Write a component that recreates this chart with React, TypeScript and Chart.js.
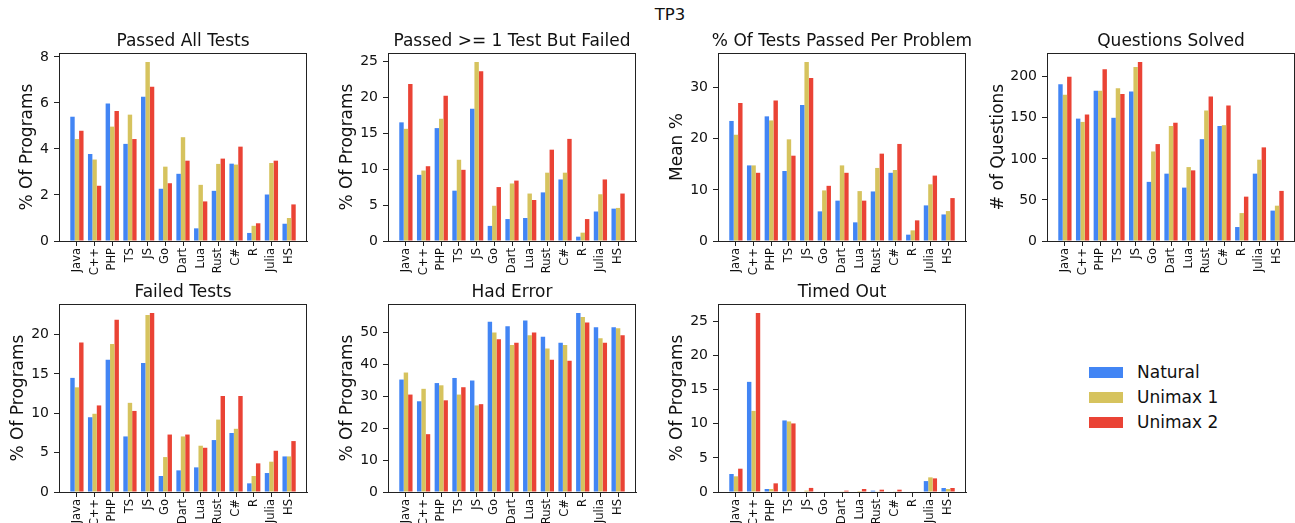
import React, { useEffect, useRef } from 'react';
import { Chart, registerables } from 'chart.js';

Chart.register(...registerables);

const categories = ['Java', 'C++', 'PHP', 'TS', 'JS', 'Go', 'Dart', 'Lua', 'Rust', 'C#', 'R', 'Julia', 'HS'];
const seriesNames = ['Natural', 'Unimax 1', 'Unimax 2'];
const seriesColors = ['#4285F4', '#D6C35E', '#EA4335'];

// Passed All Tests
const passedAllNatural = [5.40, 3.78, 5.98, 4.22, 6.27, 2.27, 2.92, 0.55, 2.18, 3.36, 0.35, 2.02, 0.75];
const passedAllUnimax1 = [4.43, 3.54, 4.97, 5.49, 7.78, 3.23, 4.51, 2.44, 3.35, 3.32, 0.66, 3.39, 1.00];
const passedAllUnimax2 = [4.79, 2.40, 5.65, 4.43, 6.70, 2.51, 3.49, 1.72, 3.58, 4.10, 0.77, 3.49, 1.59];
const passedAllTicks = [0, 2, 4, 6, 8];

// Passed >= 1 Test But Failed
const passedOneNatural = [16.5, 9.2, 15.7, 7.0, 18.4, 2.1, 3.05, 3.2, 6.76, 8.56, 0.6, 4.1, 4.5];
const passedOneUnimax1 = [15.6, 9.8, 17.0, 11.3, 24.9, 4.9, 8.0, 6.6, 9.5, 9.5, 1.16, 6.5, 4.6];
const passedOneUnimax2 = [21.85, 10.4, 20.2, 9.9, 23.6, 7.5, 8.4, 5.7, 12.7, 14.2, 3.05, 8.56, 6.6];
const passedOneTicks = [0, 5, 10, 15, 20, 25];

// % Of Tests Passed Per Problem
const meanNatural = [23.5, 14.8, 24.4, 13.7, 26.6, 5.8, 7.9, 3.65, 9.7, 13.35, 1.24, 6.97, 5.2];
const meanUnimax1 = [20.8, 14.8, 23.6, 19.9, 35.05, 9.9, 14.8, 9.77, 14.3, 13.9, 2.08, 11.1, 5.86];
const meanUnimax2 = [27.0, 13.35, 27.5, 16.7, 31.9, 10.8, 13.35, 7.9, 17.1, 19.0, 4.04, 12.8, 8.4];
const meanTicks = [0, 10, 20, 30];

// Questions Solved
const solvedNatural = [191, 149, 183, 150, 182, 72, 82, 65, 124, 140, 17, 82, 37];
const solvedUnimax1 = [178, 145, 183, 186, 212, 109, 140, 90, 159, 141, 34, 99, 43];
const solvedUnimax2 = [200, 154, 209, 179, 218, 118, 144, 86, 176, 165, 54, 114, 61];
const solvedTicks = [0, 50, 100, 150, 200];

// Failed Tests
const failedNatural = [14.5, 9.5, 16.8, 7.06, 16.4, 2.03, 2.75, 3.13, 6.6, 7.5, 1.1, 2.41, 4.52];
const failedUnimax1 = [13.3, 9.94, 18.8, 11.33, 22.5, 4.44, 7.06, 5.88, 9.2, 8.03, 2.03, 3.85, 4.52];
const failedUnimax2 = [19.0, 11.0, 21.9, 10.3, 22.75, 7.3, 7.3, 5.62, 12.2, 12.2, 3.64, 5.24, 6.47];
const failedTicks = [0, 5, 10, 15, 20];

// Had Error
const errorNatural = [35.2, 28.4, 34.1, 35.7, 34.9, 53.3, 51.9, 53.7, 48.6, 46.7, 56.05, 51.6, 51.6];
const errorUnimax1 = [37.4, 32.3, 33.4, 30.5, 27.1, 49.9, 46.0, 49.1, 44.9, 46.0, 54.8, 48.1, 51.3];
const errorUnimax2 = [30.5, 18.1, 28.7, 32.8, 27.5, 47.8, 46.7, 49.9, 41.4, 41.1, 53.1, 46.7, 49.1];
const errorTicks = [0, 10, 20, 30, 40, 50];

// Timed Out
const timedNatural = [2.64, 16.16, 0.44, 10.5, 0, 0, 0, 0, 0.2, 0, 0, 1.6, 0.59];
const timedUnimax1 = [2.3, 11.9, 0.44, 10.35, 0.2, 0, 0.05, 0.15, 0.05, 0.05, 0, 2.15, 0.44];
const timedUnimax2 = [3.42, 26.27, 1.27, 10.06, 0.6, 0, 0.2, 0.44, 0.34, 0.34, 0, 2.0, 0.59];
const timedTicks = [0, 5, 10, 15, 20, 25];

const FONT = '"DejaVu Sans", "Liberation Sans", sans-serif';
const TEXT = '#111';
const PAD_L = 60;
const PAD_T = 30;
const PAD_B = 62;
const PAD_R = 30;
const AREA_W = 248;
const AREA_H = 188;

type PanelDef = {
  title: string;
  ylabel: string;
  series: number[][];
  ticks: number[];
  left: number;
  top: number;
};

const panels: PanelDef[] = [
  { title: 'Passed All Tests', ylabel: '% Of Programs', series: [passedAllNatural, passedAllUnimax1, passedAllUnimax2], ticks: passedAllTicks, left: 59, top: 53 },
  { title: 'Passed >= 1 Test But Failed', ylabel: '% Of Programs', series: [passedOneNatural, passedOneUnimax1, passedOneUnimax2], ticks: passedOneTicks, left: 388, top: 53 },
  { title: '% Of Tests Passed Per Problem', ylabel: 'Mean %', series: [meanNatural, meanUnimax1, meanUnimax2], ticks: meanTicks, left: 718, top: 53 },
  { title: 'Questions Solved', ylabel: '# of Questions', series: [solvedNatural, solvedUnimax1, solvedUnimax2], ticks: solvedTicks, left: 1047, top: 53 },
  { title: 'Failed Tests', ylabel: '% Of Programs', series: [failedNatural, failedUnimax1, failedUnimax2], ticks: failedTicks, left: 59, top: 304 },
  { title: 'Had Error', ylabel: '% Of Programs', series: [errorNatural, errorUnimax1, errorUnimax2], ticks: errorTicks, left: 388, top: 304 },
  { title: 'Timed Out', ylabel: '% Of Programs', series: [timedNatural, timedUnimax1, timedUnimax2], ticks: timedTicks, left: 718, top: 304 },
];

const framePlugin = (title: string, ylabel: string, ticks: number[]) => ({
  id: 'frame',
  afterDraw(chart: any) {
    const { ctx, chartArea } = chart;
    const { left, top, right, bottom } = chartArea;
    ctx.save();
    ctx.strokeStyle = '#222';
    ctx.lineWidth = 1;
    ctx.strokeRect(Math.round(left) + 0.5, Math.round(top) + 0.5, Math.round(right - left) - 1, Math.round(bottom - top));
    ctx.fillStyle = TEXT;
    ctx.font = `17px ${FONT}`;
    ctx.textAlign = 'center';
    ctx.textBaseline = 'alphabetic';
    ctx.fillText(title, (left + right) / 2, top - 7);
    ctx.font = `14px ${FONT}`;
    let maxW = 0;
    ticks.forEach((t) => {
      maxW = Math.max(maxW, ctx.measureText(String(t)).width);
    });
    const cx = left - 10 - maxW - 12.2;
    const cy = (top + bottom) / 2;
    ctx.translate(cx, cy);
    ctx.rotate(-Math.PI / 2);
    ctx.font = `17px ${FONT}`;
    ctx.textAlign = 'center';
    ctx.textBaseline = 'middle';
    ctx.fillText(ylabel, 0, 0);
    ctx.restore();
  },
});

function Panel({ def }: { def: PanelDef }) {
  const ref = useRef<HTMLCanvasElement | null>(null);
  useEffect(() => {
    if (!ref.current) return;
    const allVals = def.series.flat();
    const ymax = Math.max(...allVals) * 1.05;
    const n = categories.length;
    const half = 0.375 + 0.05 * (n - 1 + 0.75);
    const chart = new Chart(ref.current, {
      type: 'bar',
      data: {
        datasets: def.series.map((vals, k) => ({
          label: seriesNames[k],
          data: vals.map((v, i) => ({ x: i, y: v })),
          backgroundColor: seriesColors[k],
          borderWidth: 0,
          categoryPercentage: 0.75,
          barPercentage: 1.0,
        })),
      },
      options: {
        responsive: false,
        animation: false,
        layout: { padding: { left: 0, top: PAD_T, right: PAD_R, bottom: 0 } },
        plugins: {
          legend: { display: false },
          tooltip: { enabled: false },
          title: { display: false },
        },
        scales: {
          x: {
            type: 'linear',
            min: -half,
            max: n - 1 + half,
            offset: false,
            grid: { display: true, drawOnChartArea: false, drawTicks: true, tickLength: 5, color: '#222', offset: false, lineWidth: 1 },
            border: { display: true, color: '#222', width: 1 },
            afterBuildTicks: (s: any) => {
              s.ticks = categories.map((_, i) => ({ value: i }));
            },
            afterFit: (s: any) => {
              s.height = PAD_B;
            },
            ticks: {
              autoSkip: false,
              minRotation: 90,
              maxRotation: 90,
              padding: 2,
              color: TEXT,
              font: { family: FONT, size: 11.5 },
              callback: (v: any) => categories[v] ?? '',
            },
          },
          y: {
            type: 'linear',
            min: 0,
            max: ymax,
            grid: { display: true, drawOnChartArea: false, drawTicks: true, tickLength: 5, color: '#222', lineWidth: 1 },
            border: { display: true, color: '#222', width: 1 },
            afterBuildTicks: (s: any) => {
              s.ticks = def.ticks.map((v) => ({ value: v }));
            },
            afterFit: (s: any) => {
              s.width = PAD_L;
            },
            ticks: {
              padding: 5,
              color: TEXT,
              font: { family: FONT, size: 14 },
              callback: (v: any) => String(v),
            },
          },
        },
      } as any,
      plugins: [framePlugin(def.title, def.ylabel, def.ticks)],
    });
    return () => chart.destroy();
  }, [def]);
  const w = PAD_L + AREA_W + PAD_R;
  const h = PAD_T + AREA_H + PAD_B;
  return (
    <canvas
      ref={ref}
      width={w}
      height={h}
      style={{ position: 'absolute', left: def.left - PAD_L, top: def.top - PAD_T, width: w, height: h }}
    />
  );
}

const legendRowsY = [372, 397, 422];

export default function App() {
  return (
    <div style={{ position: 'absolute', left: 0, top: 0, width: 1295, height: 523, overflow: 'hidden', background: '#fff', fontFamily: FONT, color: TEXT }}>
      <div style={{ position: 'absolute', left: 570, top: 5, width: 200, textAlign: 'center', fontSize: 16.5, lineHeight: '20px' }}>TP3</div>
      {panels.map((p) => (
        <Panel key={p.title} def={p} />
      ))}
      {seriesNames.map((name, k) => (
        <div key={name} style={{ position: 'absolute', left: 1089, top: legendRowsY[k] - 10, height: 20, display: 'flex', alignItems: 'center' }}>
          <div style={{ width: 34, height: 11, background: seriesColors[k] }} />
          <div style={{ marginLeft: 14, fontSize: 17, lineHeight: '20px', whiteSpace: 'nowrap' }}>{name}</div>
        </div>
      ))}
    </div>
  );
}
